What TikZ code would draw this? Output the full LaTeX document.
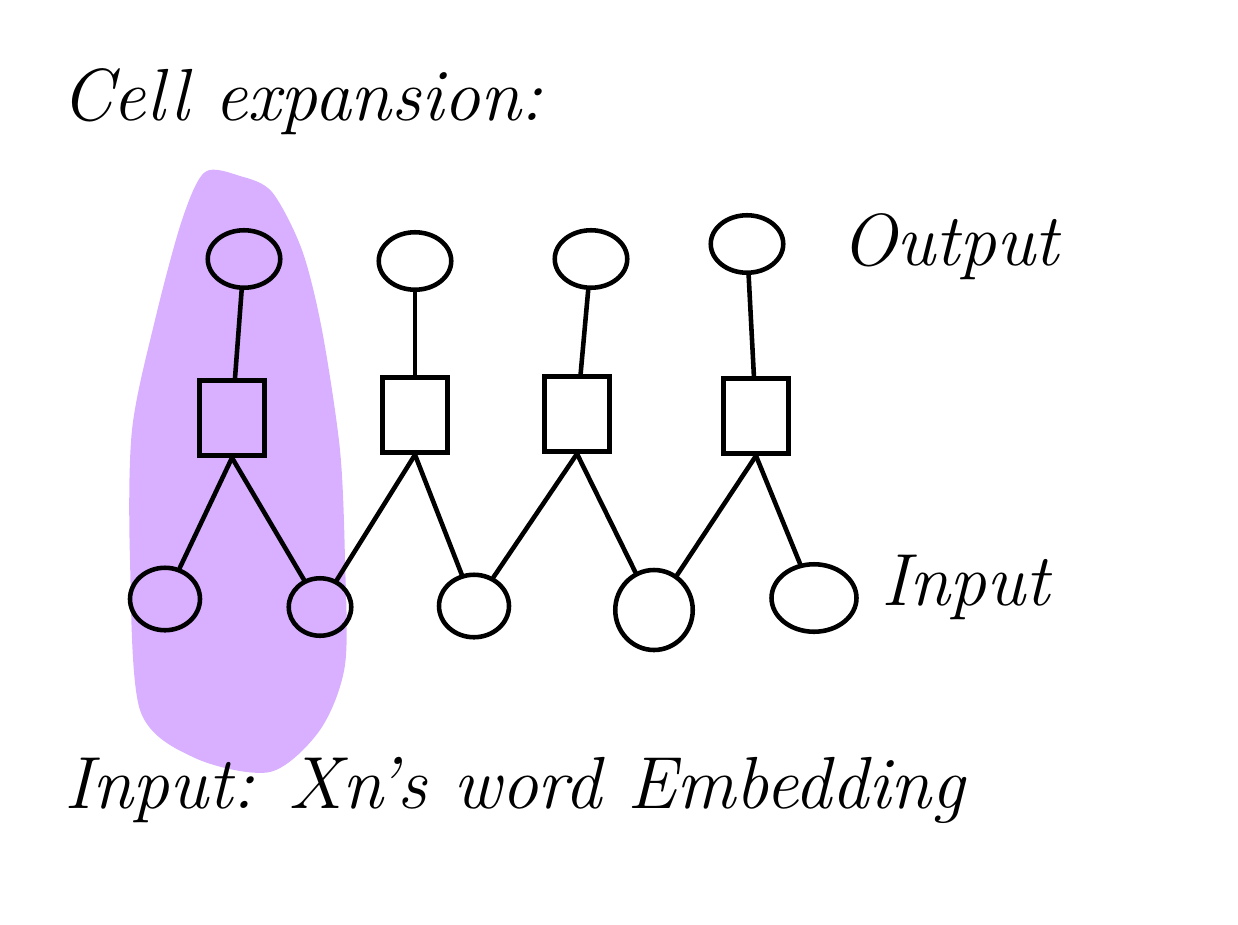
\documentclass[tikz,border=0pt]{standalone}
\usetikzlibrary{shapes.geometric}
\definecolor{blobpurple}{RGB}{216,176,255}
\tikzset{
  cellout/.style={draw, ellipse, line width=2.6pt, minimum width=1.45cm, minimum height=1.15cm},
  cellin/.style={draw, ellipse, line width=2.6pt, minimum width=1.4cm, minimum height=1.25cm},
  cellbox/.style={draw, rectangle, line width=2.6pt, minimum width=1.3cm, minimum height=1.5cm},
  wire/.style={line width=2.6pt, line cap=round},
  scribble/.style={font=\fontsize{42}{46}\selectfont\itshape, anchor=base west}
}
\begin{document}
\begin{tikzpicture}[x=0.02cm, y=-0.02cm]
        \useasboundingbox (0,0) rectangle (1238,924);
        % highlighted cell
        \fill[blobpurple] plot[smooth cycle] coordinates {(205,172) (240,176) (272,192) (302,250) (322,330) (340,450) (345,560) (345,665) (320,730) (270,772) (195,758) (140,710) (130,560) (132,430) (155,320) (182,220)};

        \node[scribble] (title) at (55,120) {Cell expansion:};

        \node[cellout] (out1) at (244,259) {};
        \node[cellout] (out2) at (415,261) {};
        \node[cellout] (out3) at (591,259) {};
        \node[cellout] (out4) at (747,244) {};
        \node[scribble] (outlabel) at (835,265) {Output};

        \node[cellbox] (box1) at (232,418) {};
        \node[cellbox] (box2) at (415,415) {};
        \node[cellbox] (box3) at (577,414) {};
        \node[cellbox] (box4) at (756,416) {};

        \node[cellin] (in1) at (165,599) {};
        \node[cellin, minimum width=1.25cm, minimum height=1.15cm] (in2) at (320,607) {};
        \node[cellin] (in3) at (474,606) {};
        \node[cellin, minimum width=1.55cm, minimum height=1.6cm] (in4) at (654,610) {};
        \node[cellin, minimum width=1.7cm, minimum height=1.35cm] (in5) at (814,598) {};
        \node[scribble] (inlabel) at (875,605) {Input};

        \draw[wire] (out1) -- (box1);
        \draw[wire] (out2) -- (box2);
        \draw[wire] (out3) -- (box3);
        \draw[wire] (out4) -- (box4);

        \draw[wire] (box1.south) -- (in1);
        \draw[wire] (box1.south) -- (in2);
        \draw[wire] (box2.south) -- (in2);
        \draw[wire] (box2.south) -- (in3);
        \draw[wire] (box3.south) -- (in3);
        \draw[wire] (box3.south) -- (in4);
        \draw[wire] (box4.south) -- (in4);
        \draw[wire] (box4.south) -- (in5);

        \node[scribble] (note) at (58,808) {Input: Xn's word Embedding};
\end{tikzpicture}
\end{document}
